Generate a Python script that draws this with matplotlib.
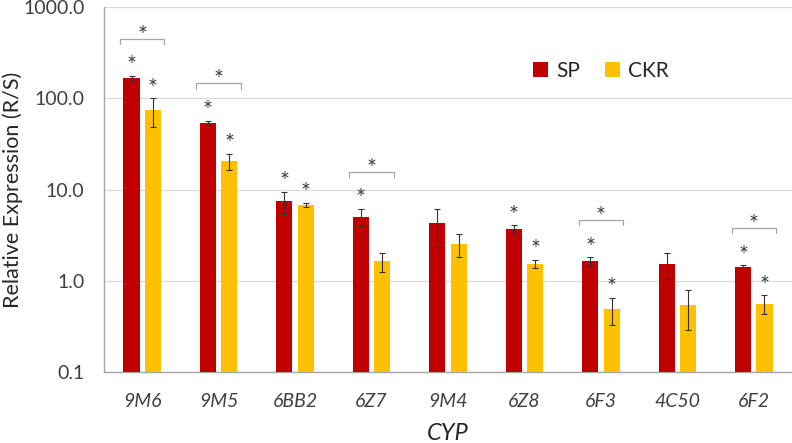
import matplotlib
matplotlib.use("Agg")
import numpy as np
import matplotlib.pyplot as plt
from matplotlib.ticker import FixedLocator, NullLocator

categories = ["9M6", "9M5", "6BB2", "6Z7", "9M4", "6Z8", "6F3", "4C50", "6F2"]
sp = [166, 53.6, 7.4, 5.05, 4.26, 3.7, 1.63, 1.52, 1.41]
sp_err = [11, 3.3, 2.0, 1.1, 1.9, 0.35, 0.17, 0.47, 0.07]
ckr = [74.5, 20.5, 6.8, 1.63, 2.53, 1.54, 0.49, 0.54, 0.56]
ckr_err = [26, 4.2, 0.4, 0.38, 0.7, 0.15, 0.16, 0.25, 0.13]

# significance marks: above SP bar, above CKR bar, bracket between the pair
sp_sig = [1, 1, 1, 1, 0, 1, 1, 0, 1]
ckr_sig = [1, 1, 1, 0, 0, 1, 1, 0, 1]
pair_sig = [1, 1, 0, 1, 0, 0, 1, 0, 1]

yticks = [0.1, 1, 10, 100, 1000]

RED = "#C00000"
YELLOW = "#FFC000"
STAR = "#404040"

plt.rcParams["font.family"] = ["Lato", "DejaVu Sans"]

fig = plt.figure(figsize=(7.92, 4.43), dpi=100)
ax = fig.add_axes([104 / 792, 1 - 372 / 443, 688 / 792, 365 / 443])

x = np.arange(len(categories))
w = 0.21
off = 0.14
ekw = dict(elinewidth=0.8, capthick=0.8, ecolor="#333333")
ax.bar(x - off, sp, w, color=RED, yerr=sp_err, capsize=2, error_kw=ekw, label="SP", zorder=3)
ax.bar(x + off, ckr, w, color=YELLOW, yerr=ckr_err, capsize=2, error_kw=ekw, label="CKR", zorder=3)

ax.set_yscale("log")
ax.set_ylim(0.1, 1000)
ax.set_xlim(-0.5, len(categories) - 0.5)
ax.yaxis.set_major_locator(FixedLocator(yticks))
ax.yaxis.set_minor_locator(NullLocator())
ax.set_yticklabels([f"{t:.1f}" for t in yticks], fontsize=14, color="#404040")
ax.set_xticks(x)
ax.set_xticklabels(categories, fontsize=14, style="italic", color="#404040")
ax.tick_params(axis="y", length=0, pad=14)
ax.tick_params(axis="x", length=0, pad=15)
ax.grid(axis="y", color="#d9d9d9", linewidth=0.9, zorder=0)

for s in ["top", "right"]:
    ax.spines[s].set_visible(False)
for s in ["left", "bottom"]:
    ax.spines[s].set_color("#a6a6a6")
    ax.spines[s].set_linewidth(1.0)

ax.set_ylabel("Relative Expression (R/S)", fontsize=15.5, color="#262626")
ax.yaxis.label.set_verticalalignment("center")
ax.yaxis.set_label_coords(-(104 - 13) / 688, 0.5)
ax.set_xlabel("CYP", fontsize=17, style="italic", color="#262626")
ax.xaxis.label.set_verticalalignment("center")
ax.xaxis.set_label_coords(0.5, -(433 - 372) / 365)


def up(v, px):
    # move a value up by px pixels on the log axis (91 px per decade)
    return v * 10 ** (px / 91.0)


for i in range(len(categories)):
    sp_top = sp[i] + sp_err[i]
    ckr_top = ckr[i] + ckr_err[i]
    if sp_sig[i]:
        ax.text(x[i] - off, up(sp_top, 10), "*", ha="center", va="center", fontsize=17, color=STAR)
    if ckr_sig[i]:
        ax.text(x[i] + off, up(ckr_top, 10), "*", ha="center", va="center", fontsize=17, color=STAR)
    if pair_sig[i]:
        yb = up(max(sp_top, ckr_top), 37)
        yl = up(yb, -5)
        ax.plot([x[i] - 0.29, x[i] - 0.29, x[i] + 0.29, x[i] + 0.29], [yl, yb, yb, yl],
                color="#a6a6a6", linewidth=0.9, zorder=4)
        ax.text(x[i], up(yb, 3.5), "*", ha="center", va="center", fontsize=17, color=STAR)

leg = ax.legend(loc="center", bbox_to_anchor=(601 / 792, 1 - 71 / 443), bbox_transform=fig.transFigure,
                ncol=2, frameon=False, fontsize=15, handlelength=0.7, handleheight=0.7,
                handletextpad=0.4, columnspacing=1.2)
for t in leg.get_texts():
    t.set_color("#262626")

fig.savefig("out.png", dpi=100)
